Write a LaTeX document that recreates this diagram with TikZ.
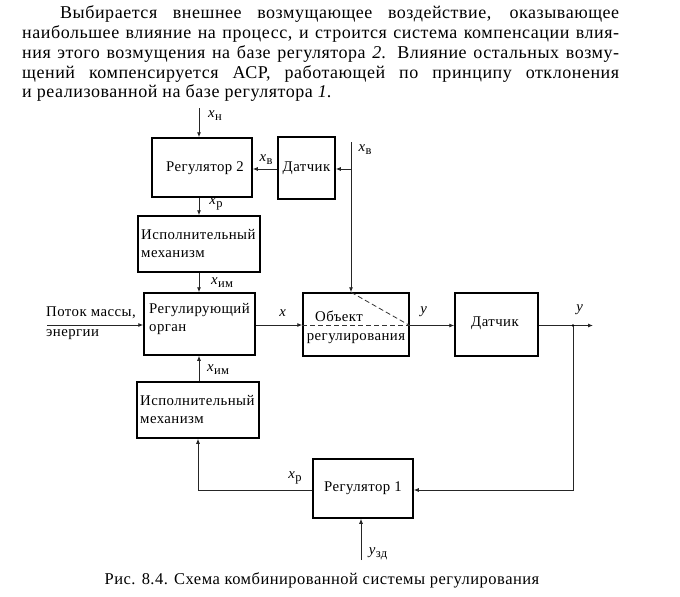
\documentclass[tikz,border=0pt]{standalone}
\usepackage{fontspec}
\setmainfont{Liberation Serif}[LetterSpace=3]
\usetikzlibrary{arrows.meta}
\newcommand\ptext{\fontsize{18}{20}\selectfont}
\newcommand\dfont{\fontsize{14.8}{17}\selectfont}
\newcommand\sublab[2]{\textit{#1}\raisebox{-0.45ex}{\fontsize{12.5}{14}\selectfont #2}}
\begin{document}
\begin{tikzpicture}[x=1pt,y=-1pt,
  blk/.style={draw, line width=1.5pt, inner sep=0pt, font=\dfont},
  lbl/.style={inner sep=0pt, font=\dfont},
  btxt/.style={inner sep=0pt, font=\dfont, anchor=west},
  conn/.style={draw=black!85, line width=0.8pt},
  arr/.style={conn, -{Latex[length=5pt,width=4pt]}},
  dsh/.style={draw=black!80, line width=0.8pt, dash pattern=on 5pt off 3pt},
  para/.style={inner sep=0pt, anchor=base west, font=\ptext}
]
\useasboundingbox (0,0) rectangle (680,597);

% paragraph
\node[para] (p1) at (60,18.5) {\makebox[559pt][s]{Выбирается внешнее возмущающее воздействие, оказывающее}};
\node[para] (p2) at (22,38.5) {\makebox[597pt][s]{наибольшее влияние на процесс, и строится система компенсации влия-}};
\node[para] (p3) at (22,58.3) {\makebox[597pt][s]{ния этого возмущения на базе регулятора \textit{2}. Влияние остальных возму-}};
\node[para] (p4) at (22,78) {\makebox[597pt][s]{щений компенсируется АСР, работающей по принципу отклонения}};
\node[para] (p5) at (22,97.5) {и реализованной на базе регулятора \textit{1}.};

% blocks
\node[blk, minimum width=100pt, minimum height=59pt] (reg2) at (202,167.5) {};
\node[lbl] (reg2t) at (205,168) {Регулятор 2};
\node[blk, minimum width=57pt, minimum height=62pt] (dat1) at (306.5,168) {Датчик};
\node[blk, minimum width=122pt, minimum height=56pt] (isp1) at (199,244) {};
\node[btxt] (isp1a) at (141,235) {Исполнительный};
\node[btxt] (isp1b) at (141,254) {механизм};
\node[blk, minimum width=111pt, minimum height=62pt] (ro) at (199.5,324) {};
\node[btxt] (roa) at (149,310) {Регулирующий};
\node[btxt] (rob) at (149,330) {орган};
\node[blk, minimum width=106pt, minimum height=63pt] (obj) at (356,324.5) {};
\node[lbl] (obja) at (339,316) {Объект};
\node[lbl] (objb) at (356,339) {регулирования};
\node[blk, minimum width=83pt, minimum height=63pt] (dat2) at (496.5,324.5) {};
\node[lbl] (dat2t) at (495,323) {Датчик};
\node[blk, minimum width=122pt, minimum height=56pt] (isp2) at (198,410) {};
\node[btxt] (isp2a) at (140,401) {Исполнительный};
\node[btxt] (isp2b) at (140,420) {механизм};
\node[blk, minimum width=100pt, minimum height=59pt] (reg1) at (363,488.5) {};
\node[lbl] (reg1t) at (363,488) {Регулятор 1};

% coordinates
\coordinate (xn) at (199,108);
\coordinate (xvtop) at (351,142);
\coordinate (xvbr) at (351,169);
\coordinate (flow) at (47,325);
\coordinate (out) at (593,325.5);
\coordinate (junc) at (573,325.5);
\coordinate (fbc) at (573,490);
\coordinate (r1c) at (198,490);
\coordinate (yzd) at (361,560);

% connectors
\draw[arr] (xn) -- (xn |- reg2.north);
\draw[arr] (dat1.west |- xvbr) -- (reg2.east |- xvbr);
\draw[arr] (xvtop) -- (xvtop |- obj.north);
\draw[arr] (xvbr) -- (dat1.east |- xvbr);
\draw[arr] (xn |- reg2.south) -- (xn |- isp1.north);
\draw[arr] (xn |- isp1.south) -- (xn |- ro.north);
\draw[arr] (flow) -- (ro.west |- flow);
\draw[arr] (ro.east |- flow) -- (obj.west |- flow);
\draw[arr] (obj.east |- junc) -- (dat2.west |- junc);
\draw[arr] (dat2.east |- junc) -- (out);
\fill (junc) circle (1.4pt);
\draw[arr] (junc) -- (fbc) -- (reg1.east |- fbc);
\draw[arr] (reg1.west |- fbc) -- (r1c) -- (r1c |- isp2.south);
\draw[arr] (xn |- isp2.north) -- (xn |- ro.south);
\draw[arr] (yzd) -- (yzd |- reg1.south);

% dashed lines in object
\draw[dsh] (obj.west |- junc) -- (obj.east |- junc);
\draw[dsh] (xvtop |- obj.north) -- (obj.east |- junc);

% labels
\node[lbl] (lxn) at (215,116) {\sublab{x}{н}};
\node[lbl] (lxv1) at (266,160) {\sublab{x}{в}};
\node[lbl] (lxv2) at (365,150) {\sublab{x}{в}};
\node[lbl] (lxr1) at (216,204) {\sublab{x}{р}};
\node[lbl] (lxim1) at (222,283) {\sublab{x}{им}};
\node[lbl] (lxim2) at (218,370) {\sublab{x}{им}};
\node[lbl] (lx) at (283,313) {\textit{x}};
\node[lbl] (ly1) at (424,312) {\textit{y}};
\node[lbl] (ly2) at (580,310) {\textit{y}};
\node[lbl] (lxr2) at (295,478) {\sublab{x}{р}};
\node[lbl] (lyzd) at (378,554) {\sublab{y}{зд}};
\node[btxt] (flow1) at (46,313) {Поток массы,};
\node[btxt] (flow2) at (46,335) {энергии};

% caption
\node[lbl, font=\fontsize{16.5}{18}\selectfont, anchor=base] (cap) at (322,584) {Рис. 8.4. Схема комбинированной системы регулирования};
\end{tikzpicture}
\end{document}
